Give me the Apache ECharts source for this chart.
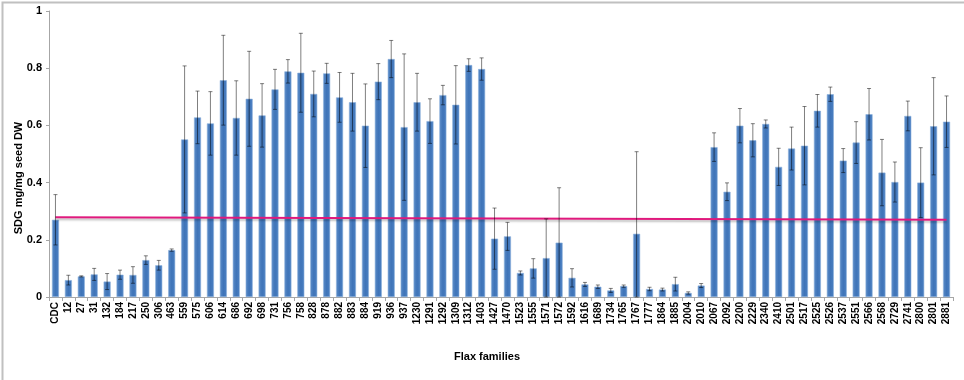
<!DOCTYPE html>
<html>
<head>
<meta charset="utf-8">
<script src="https://cdn.jsdelivr.net/npm/echarts@6/dist/echarts.min.js"></script>
<style>
html, body { margin: 0; padding: 0; background: #fff; }
#main { width: 964px; height: 380px; }
</style>
</head>
<body>
<div id="main"></div>
<script>
var families = ['CDC', '12', '27', '31', '132', '184', '217', '250', '306', '463',
    '559', '575', '606', '614', '686', '692', '698', '731', '756', '758',
    '828', '878', '882', '883', '884', '919', '936', '937', '1230', '1291',
    '1292', '1309', '1312', '1403', '1427', '1470', '1523', '1555', '1571', '1572',
    '1592', '1616', '1689', '1734', '1765', '1767', '1777', '1864', '1885', '2004',
    '2010', '2067', '2092', '2200', '2229', '2340', '2410', '2501', '2517', '2525',
    '2526', '2537', '2551', '2566', '2568', '2729', '2741', '2800', '2801', '2881'];

var sdgMean = [0.27, 0.059, 0.072, 0.079, 0.054, 0.078, 0.077, 0.129, 0.111, 0.164,
    0.551, 0.628, 0.607, 0.758, 0.626, 0.693, 0.635, 0.726, 0.789, 0.784,
    0.71, 0.782, 0.698, 0.681, 0.599, 0.753, 0.832, 0.594, 0.681, 0.615,
    0.706, 0.672, 0.811, 0.797, 0.204, 0.212, 0.084, 0.1, 0.136, 0.19,
    0.067, 0.044, 0.036, 0.023, 0.038, 0.221, 0.028, 0.026, 0.045, 0.014,
    0.04, 0.524, 0.368, 0.599, 0.548, 0.605, 0.455, 0.519, 0.529, 0.651,
    0.709, 0.477, 0.54, 0.639, 0.435, 0.402, 0.633, 0.4, 0.597, 0.613];

var sdgSd = [0.088, 0.017, 0.002, 0.021, 0.028, 0.016, 0.029, 0.015, 0.017, 0.004,
    0.257, 0.092, 0.111, 0.157, 0.13, 0.166, 0.111, 0.07, 0.041, 0.138,
    0.08, 0.035, 0.087, 0.101, 0.146, 0.063, 0.065, 0.256, 0.101, 0.078,
    0.034, 0.137, 0.022, 0.039, 0.107, 0.049, 0.007, 0.034, 0.137, 0.192,
    0.032, 0.007, 0.006, 0.007, 0.004, 0.287, 0.006, 0.005, 0.024, 0.004,
    0.007, 0.05, 0.031, 0.06, 0.058, 0.014, 0.065, 0.075, 0.137, 0.057,
    0.025, 0.042, 0.073, 0.09, 0.116, 0.07, 0.052, 0.122, 0.17, 0.09];

// CDC reference level (drawn across the chart)
var cdcLineStart = 0.279;
var cdcLineEnd = 0.270;

var yTicks = [0, 0.2, 0.4, 0.6, 0.8, 1];

var errData = families.map(function (f, i) {
    return [i, Math.max(0, sdgMean[i] - sdgSd[i]), sdgMean[i] + sdgSd[i]];
});

var myChart = echarts.init(document.getElementById('main'));

var option = {
    animation: false,
    textStyle: { fontFamily: 'Liberation Sans' },
    grid: { left: 49, right: 11, top: 11, bottom: 83 },
    xAxis: {
        type: 'category',
        data: families,
        axisLine: { lineStyle: { color: '#a6a6a6' } },
        axisTick: { show: true, length: 4, lineStyle: { color: '#a6a6a6' } },
        axisLabel: {
            rotate: 90, interval: 0, margin: 5,
            color: '#000', fontWeight: 'bold', fontSize: 10
        }
    },
    yAxis: {
        type: 'value',
        min: 0, max: 1, interval: 0.2,
        axisLine: { show: true, lineStyle: { color: '#a6a6a6' } },
        axisTick: { show: true, length: 3, lineStyle: { color: '#a6a6a6' } },
        splitLine: { show: false },
        axisLabel: {
            color: '#000', fontWeight: 'bold', fontSize: 11, margin: 7,
            formatter: function (v) {
                return yTicks.indexOf(Math.round(v * 10) / 10) >= 0 ? String(Math.round(v * 10) / 10) : '';
            }
        }
    },
    graphic: [
        {
            type: 'rect', left: 0, top: 0,
            shape: { width: 963, height: 379 },
            style: { fill: 'none', stroke: '#c0c0c0', lineWidth: 2 }
        },
        {
            type: 'text', x: 19, y: 178, rotation: Math.PI / 2,
            style: {
                text: 'SDG mg/mg seed DW', fill: '#000',
                font: 'bold 11px "Liberation Sans"',
                align: 'center', verticalAlign: 'middle'
            }
        },
        {
            type: 'text', x: 487, y: 357,
            style: {
                text: 'Flax families', fill: '#000',
                font: 'bold 11px "Liberation Sans"',
                align: 'center', verticalAlign: 'middle'
            }
        }
    ],
    series: [
        {
            name: 'SDG',
            type: 'bar',
            data: sdgMean,
            barWidth: 7,
            itemStyle: {
                color: {
                    type: 'linear', x: 0, y: 0, x2: 1, y2: 0,
                    colorStops: [
                        { offset: 0, color: '#5b8cc8' },
                        { offset: 0.5, color: '#3f74b8' },
                        { offset: 1, color: '#4b80c2' }
                    ]
                },
                borderColor: '#8cb0dc',
                borderWidth: 0.6
            },
            markLine: {
                silent: true,
                symbol: 'none',
                label: { show: false },
                lineStyle: {
                    color: '#e0197d', width: 2, type: 'solid',
                    shadowColor: 'rgba(0,0,0,0.25)', shadowBlur: 2, shadowOffsetY: 2
                },
                data: [[
                    { coord: [families[0], cdcLineStart] },
                    { coord: [families[families.length - 1], cdcLineEnd] }
                ]]
            }
        },
        {
            name: 'SD',
            type: 'custom',
            data: errData,
            z: 5,
            renderItem: function (params, api) {
                var x = api.value(0);
                var lo = api.coord([x, api.value(1)]);
                var hi = api.coord([x, api.value(2)]);
                var cap = 2;
                var st = { stroke: 'rgba(0,0,0,0.5)', lineWidth: 1 };
                return {
                    type: 'group',
                    children: [
                        { type: 'line', shape: { x1: hi[0], y1: hi[1], x2: lo[0], y2: lo[1] }, style: st },
                        { type: 'line', shape: { x1: hi[0] - cap, y1: hi[1], x2: hi[0] + cap, y2: hi[1] }, style: st },
                        { type: 'line', shape: { x1: lo[0] - cap, y1: lo[1], x2: lo[0] + cap, y2: lo[1] }, style: st }
                    ]
                };
            }
        }
    ]
};

myChart.setOption(option);
</script>
</body>
</html>
